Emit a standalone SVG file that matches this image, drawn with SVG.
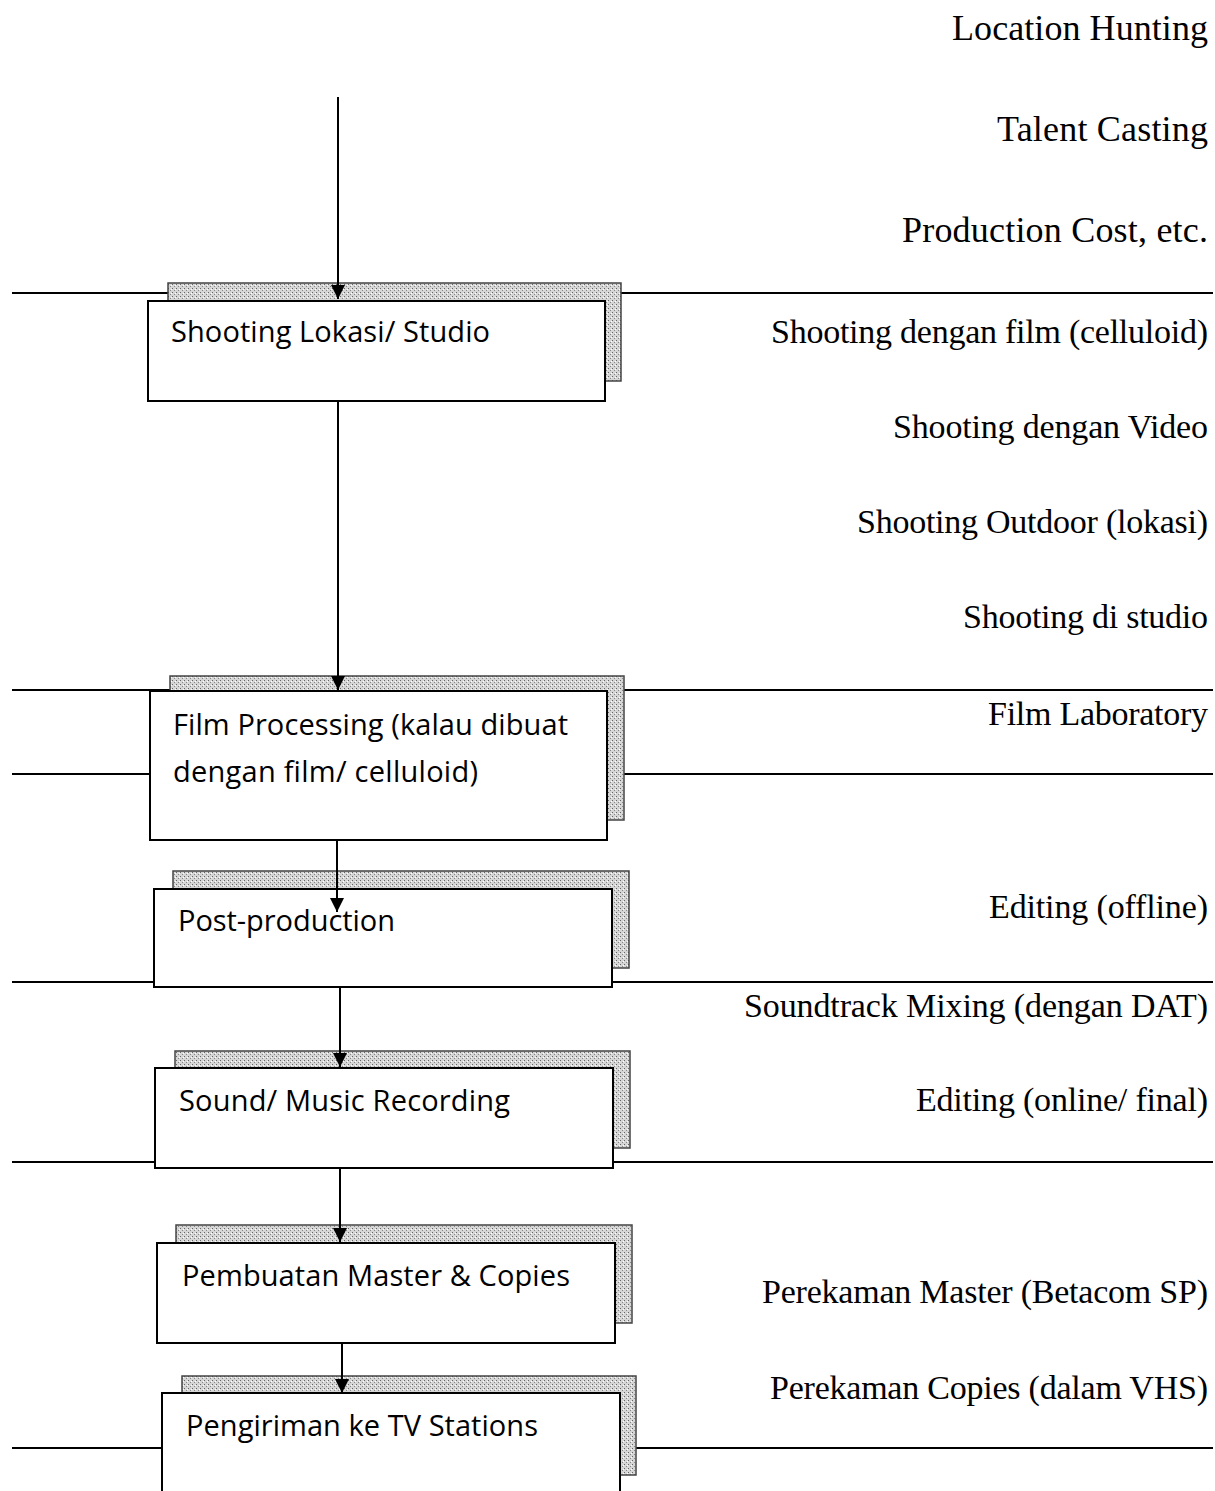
<svg xmlns="http://www.w3.org/2000/svg" width="1215" height="1491" viewBox="0 0 1215 1491">
<style>
.bg{fill:#fff}
.guide{stroke:#000;stroke-width:2;fill:none}
.shadow{fill:url(#stip);stroke:#444;stroke-width:1.5}
.box{fill:#fff;stroke:#000;stroke-width:2}
.lbl{font-family:"Open Sans","Liberation Sans",sans-serif;font-size:29px;fill:#000}
.side{font-family:"Liberation Serif","Times New Roman",serif;font-size:34px;fill:#000;text-anchor:end}
.big{font-size:36px}
.arrow{stroke:#000;stroke-width:2;fill:none;marker-end:url(#ah)}
</style>
<defs>
<pattern id="stip" width="4" height="4" patternUnits="userSpaceOnUse">
<rect width="4" height="4" fill="#d6d6d6"/>
<rect x="0" y="0" width="1" height="1" fill="#666"/>
<rect x="2" y="2" width="1" height="1" fill="#888"/>
<rect x="3" y="1" width="1" height="1" fill="#fff"/>
</pattern>
<marker id="ah" viewBox="0 0 10 10" refX="10" refY="5" markerWidth="16" markerHeight="14" orient="auto" markerUnits="userSpaceOnUse">
<path d="M0,0 L10,5 L0,10 z" fill="#000"/>
</marker>
</defs>
<rect class="bg" x="0" y="0" width="1215" height="1491"/>
<g id="guides">
<line class="guide" x1="12" y1="293" x2="1213" y2="293"/>
<line class="guide" x1="12" y1="690" x2="1213" y2="690"/>
<line class="guide" x1="12" y1="774" x2="150" y2="774"/>
<line class="guide" x1="607" y1="774" x2="1213" y2="774"/>
<line class="guide" x1="12" y1="982" x2="154" y2="982"/>
<line class="guide" x1="612" y1="982" x2="1213" y2="982"/>
<line class="guide" x1="12" y1="1162" x2="155" y2="1162"/>
<line class="guide" x1="613" y1="1162" x2="1213" y2="1162"/>
<line class="guide" x1="12" y1="1448" x2="162" y2="1448"/>
<line class="guide" x1="620" y1="1448" x2="1213" y2="1448"/>
</g>
<g id="side-labels">
<text class="side big" x="1208" y="40" textLength="256">Location Hunting</text>
<text class="side big" x="1208" y="141" textLength="211">Talent Casting</text>
<text class="side big" x="1208" y="242" textLength="306">Production Cost, etc.</text>
<text class="side" x="1208" y="343" textLength="437">Shooting dengan film (celluloid)</text>
<text class="side" x="1208" y="438" textLength="315">Shooting dengan Video</text>
<text class="side" x="1208" y="533" textLength="351">Shooting Outdoor (lokasi)</text>
<text class="side" x="1208" y="628" textLength="245">Shooting di studio</text>
<text class="side" x="1208" y="725" textLength="220">Film Laboratory</text>
<text class="side" x="1208" y="918" textLength="219">Editing (offline)</text>
<text class="side" x="1208" y="1017" textLength="464">Soundtrack Mixing (dengan DAT)</text>
<text class="side" x="1208" y="1111" textLength="292">Editing (online/ final)</text>
<text class="side" x="1208" y="1303" textLength="446">Perekaman Master (Betacom SP)</text>
<text class="side" x="1208" y="1399" textLength="438">Perekaman Copies (dalam VHS)</text>
</g>
<g id="node-shooting">
<rect class="shadow" x="168" y="283" width="453" height="98"/>
<rect class="box" x="148" y="301" width="457" height="100"/>
<text class="lbl" x="171" y="342" textLength="319">Shooting Lokasi/ Studio</text>
</g>
<g id="node-film">
<rect class="shadow" x="170" y="676" width="454" height="144"/>
<rect class="box" x="150" y="691" width="457" height="149"/>
<text class="lbl" x="173" y="735" textLength="395">Film Processing (kalau dibuat</text>
<text class="lbl" x="173" y="782" textLength="305">dengan film/ celluloid)</text>
</g>
<g id="node-post">
<rect class="shadow" x="173" y="871" width="456" height="97"/>
<rect class="box" x="154" y="889" width="458" height="98"/>
<text class="lbl" x="178" y="931" textLength="217">Post-production</text>
</g>
<g id="node-sound">
<rect class="shadow" x="175" y="1051" width="455" height="97"/>
<rect class="box" x="155" y="1068" width="458" height="100"/>
<text class="lbl" x="179" y="1111" textLength="331">Sound/ Music Recording</text>
</g>
<g id="node-master">
<rect class="shadow" x="176" y="1225" width="456" height="98"/>
<rect class="box" x="157" y="1243" width="458" height="100"/>
<text class="lbl" x="182" y="1286" textLength="388">Pembuatan Master &amp; Copies</text>
</g>
<g id="node-tv">
<rect class="shadow" x="182" y="1376" width="454" height="99"/>
<rect class="box" x="162" y="1393" width="458" height="110"/>
<text class="lbl" x="186" y="1436" textLength="352">Pengiriman ke TV Stations</text>
</g>
<g id="connectors">
<line class="arrow" x1="338" y1="97" x2="338" y2="299"/>
<line class="arrow" x1="338" y1="401" x2="338" y2="690"/>
<line class="arrow" x1="337" y1="840" x2="337" y2="912"/>
<line class="arrow" x1="340" y1="988" x2="340" y2="1067"/>
<line class="arrow" x1="340" y1="1168" x2="340" y2="1242"/>
<line class="arrow" x1="342" y1="1343" x2="342" y2="1393"/>
</g>
</svg>
